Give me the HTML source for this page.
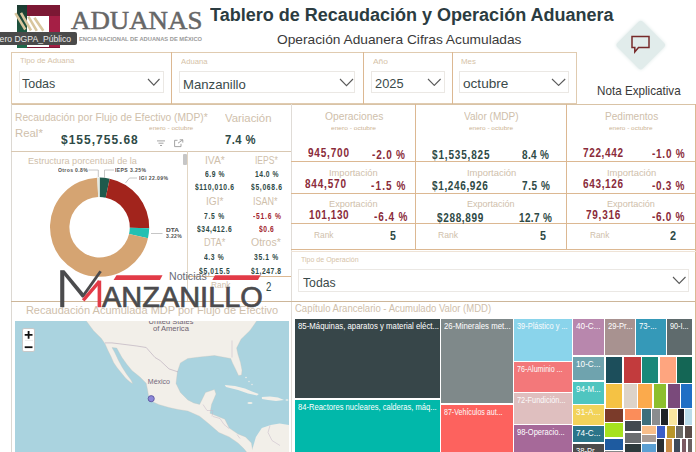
<!DOCTYPE html>
<html><head><meta charset="utf-8">
<style>
*{margin:0;padding:0;box-sizing:border-box}
html,body{width:696px;height:452px;overflow:hidden;background:#fff;font-family:"Liberation Sans",sans-serif}
.a{position:absolute;white-space:nowrap}
.b{position:absolute}
.ln{position:absolute;background:#dcb892}
</style></head><body>
<div class="b" style="left:17px;top:5px;width:43px;height:42.5px;background:#7c1834"></div>
<div class="b" style="left:17px;top:5px;width:10px;height:42.5px;background:linear-gradient(#1c3b31,#1f6a4b)"></div>
<div class="b" style="left:49.3px;top:15.8px;width:10.7px;height:31.7px;background:#a51f45"></div>
<div class="b" style="left:27.3px;top:15.8px;width:22px;height:31.7px;background:#fff"></div>
<svg class="b" style="left:0;top:0" width="60" height="48"><g stroke="#d8c69e" stroke-width="2.6" stroke-linecap="butt"><line x1="15.4" y1="13.2" x2="25.3" y2="29.5"/><line x1="21" y1="12.8" x2="31" y2="30.5"/><line x1="28.4" y1="16.6" x2="36.8" y2="30.8"/><line x1="34.4" y1="17.7" x2="43.3" y2="30.8"/></g></svg>
<div class="b" style="left:622.5px;top:26.5px;width:35.5px;height:35.5px;background:#e1eceb;transform:rotate(45deg);border-radius:3px;box-shadow:0 0 4px #dde8e7"></div>
<svg class="b" style="left:630px;top:34px" width="21" height="21" viewBox="630 34 21 21"><path d="M632 36.5H649V47.5H638.5L634.8 52V47.5H632Z" fill="none" stroke="#772a2a" stroke-width="1.5" stroke-linejoin="miter"/></svg>
<div class="b" style="left:11px;top:51.5px;width:566px;height:52.5px;border:1px solid #e0cbb0;background:#fff"></div>
<div class="ln" style="left:171px;top:52px;width:1px;height:51.5px;background:#dcb892"></div>
<div class="ln" style="left:362.5px;top:52px;width:1px;height:51.5px;background:#dcb892"></div>
<div class="ln" style="left:451.5px;top:52px;width:1px;height:51.5px;background:#dcb892"></div>
<div class="b" style="left:18.5px;top:70.8px;width:145.9px;height:22.700000000000003px;border:1px solid #ebe8e4;background:#fff"></div>
<div class="b" style="left:179.2px;top:70.7px;width:176.10000000000002px;height:22.39999999999999px;border:1px solid #ebe8e4;background:#fff"></div>
<div class="b" style="left:371px;top:71.2px;width:73.69999999999999px;height:21.5px;border:1px solid #ebe8e4;background:#fff"></div>
<div class="b" style="left:458.6px;top:71.2px;width:110.0px;height:21.5px;border:1px solid #ebe8e4;background:#fff"></div>
<svg class="b" style="left:147px;top:78.3px" width="13.5" height="8.100000000000009"><polyline points="1,1 6.8,7.1 12.5,1" fill="none" stroke="#5a5a5a" stroke-width="1.1"/></svg>
<svg class="b" style="left:338.5px;top:78px" width="15.0" height="8.599999999999994"><polyline points="1,1 7.5,7.6 14.0,1" fill="none" stroke="#5a5a5a" stroke-width="1.1"/></svg>
<svg class="b" style="left:427px;top:78px" width="14.600000000000023" height="8.400000000000006"><polyline points="1,1 7.3,7.4 13.6,1" fill="none" stroke="#5a5a5a" stroke-width="1.1"/></svg>
<svg class="b" style="left:551.2px;top:78px" width="15.199999999999932" height="8.400000000000006"><polyline points="1,1 7.6,7.4 14.2,1" fill="none" stroke="#5a5a5a" stroke-width="1.1"/></svg>
<div class="ln" style="left:11px;top:103.5px;width:685px;height:1px;background:#d9c3a6"></div>
<div class="ln" style="left:11px;top:104px;width:1px;height:348px;background:#dcd8d2"></div>
<div class="ln" style="left:290.8px;top:104px;width:1px;height:348px;background:#e0dcd7"></div>
<div class="ln" style="left:11px;top:150.5px;width:280px;height:1px;background:#d9c8b2"></div>
<div class="ln" style="left:186.8px;top:151px;width:1px;height:150px;background:#e2d6c4"></div>
<div class="b" style="left:183.2px;top:154.4px;width:3.6px;height:10.3px;background:#c6c6c6;border-radius:1px"></div>
<div class="ln" style="left:187px;top:276px;width:104px;height:1px;background:#dcb892"></div>
<div class="ln" style="left:11px;top:301px;width:685px;height:1px;background:#cdb699"></div>
<div class="ln" style="left:415.2px;top:104px;width:1px;height:145px;background:#dcb892"></div>
<div class="ln" style="left:566.3px;top:104px;width:1px;height:145px;background:#dcb892"></div>
<div class="ln" style="left:695.2px;top:104px;width:1px;height:348px;background:#dcb892"></div>
<div class="ln" style="left:291px;top:161.2px;width:405px;height:1px;background:#dcb892"></div>
<div class="ln" style="left:291px;top:192.7px;width:405px;height:1px;background:#dcb892"></div>
<div class="ln" style="left:291px;top:223.4px;width:405px;height:1px;background:#dcb892"></div>
<div class="ln" style="left:291px;top:248.7px;width:405px;height:1px;background:#dcb892"></div>
<div class="ln" style="left:291px;top:250.6px;width:405px;height:1px;background:#efe3d6"></div>
<svg class="b" style="left:155px;top:138px" width="32" height="11" viewBox="155 138 32 11"><g stroke="#9a9a9a" stroke-width="0.9" fill="none"><line x1="157" y1="140.9" x2="165" y2="140.9"/><line x1="158.5" y1="143.2" x2="163.5" y2="143.2"/><line x1="160" y1="145.5" x2="162" y2="145.5"/><path d="M177.5 140.3H174.6V146.6H181V143.8"/><path d="M178 143.2L182.8 139.8M179.7 139.8H182.8V142.6"/></g></svg>
<svg class="b" style="left:0;top:0" width="200" height="300" viewBox="0 0 200 300"><path d="M99.60 177.60A49.6 49.6 0 0 1 109.66 178.63L105.72 197.63A30.2 30.2 0 0 0 99.60 197.00Z" fill="#1e5a4c"/><path d="M109.66 178.63A49.6 49.6 0 0 1 149.19 228.24L129.79 227.83A30.2 30.2 0 0 0 105.72 197.63Z" fill="#a2241c"/><path d="M149.19 228.24A49.6 49.6 0 0 1 147.97 238.19L129.05 233.89A30.2 30.2 0 0 0 129.79 227.83Z" fill="#22c0b2"/><path d="M147.97 238.19A49.6 49.6 0 1 1 97.26 177.66L98.18 197.03A30.2 30.2 0 1 0 129.05 233.89Z" fill="#d5a472"/><path d="M97.26 177.66A49.6 49.6 0 0 1 99.60 177.60L99.60 197.00A30.2 30.2 0 0 0 98.18 197.03Z" fill="#e3e9e2"/><g stroke="#b8b8b8" stroke-width="0.8" fill="none"><path d="M88.5 170H98.3V177"/><path d="M114 170H104.5V178"/><path d="M137 178H129.5L125.5 183"/><path d="M151 233.5H162.5"/></g></svg>
<div class="b" style="left:297.7px;top:269px;width:391.3px;height:23.30000000000001px;border:1px solid #ebe8e4;background:#fff"></div>
<svg class="b" style="left:671.5px;top:276px" width="14.5" height="8.5"><polyline points="1,1 7.2,7.5 13.5,1" fill="none" stroke="#5a5a5a" stroke-width="1.1"/></svg>
<svg class="b" style="left:15px;top:320.5px" width="274" height="132" viewBox="15 320.5 274 132"><rect x="15" y="320" width="274" height="133" fill="#aad3df"/><polygon points="86.0,320.0 93.4,330.0 101.2,337.8 105.0,343.2 108.0,350.0 111.0,356.0 113.6,362.0 117.0,367.0 121.0,372.0 126.0,378.0 130.0,381.5 132.8,383.2 131.0,379.5 126.5,373.5 122.0,366.5 118.0,359.0 114.5,351.5 112.0,347.0 116.7,347.5 122.0,357.0 127.0,364.0 132.2,370.3 140.0,376.5 146.2,382.7 147.5,389.0 148.5,395.0 151.2,400.5 158.6,404.0 169.0,407.0 178.0,409.0 187.8,410.5 199.6,415.7 208.5,423.0 218.9,432.0 229.2,436.4 238.0,442.4 244.0,448.3 247.0,452.0 253.0,452.0 251.4,442.4 245.5,436.4 238.0,433.5 229.2,427.6 224.8,418.7 217.4,415.7 210.0,412.8 211.5,403.9 216.0,393.5 214.4,389.0 205.5,392.0 202.6,398.0 199.6,403.9 193.7,402.4 187.8,399.4 180.4,392.0 176.0,383.0 177.4,371.3 180.4,362.4 187.8,358.0 199.6,356.5 214.4,355.0 230.7,358.0 232.5,362.4 235.5,368.5 238.5,375.0 241.5,374.5 242.0,369.8 240.5,362.0 238.0,354.0 236.6,347.6 241.0,338.7 250.0,330.0 257.0,320.0" fill="#f2efe9" stroke="#c9c2b8" stroke-width="0.3"/><polygon points="251.4,452.0 255.9,436.4 261.8,427.6 270.7,424.6 279.6,423.0 289.0,424.6 289.0,452.0" fill="#f2efe9"/><polygon points="224.8,384.6 235.0,385.5 245.0,388.0 252.0,391.0 258.8,393.5 257.0,395.0 248.0,393.0 238.0,389.5 226.0,386.5" fill="#f2efe9"/><polygon points="261.8,396.5 270.0,396.0 278.0,397.0 284.0,399.4 276.0,400.5 268.0,399.5 262.0,398.5" fill="#f2efe9"/><ellipse cx="250" cy="402.4" rx="2.6" ry="1" fill="#f2efe9"/><ellipse cx="287" cy="399.5" rx="1.5" ry="0.8" fill="#f2efe9"/><g fill="#f2efe9"><circle cx="246" cy="377" r="0.8"/><circle cx="249" cy="381" r="0.7"/><circle cx="252" cy="384" r="0.7"/></g><polyline points="105.0,342.4 112.0,342.4 125.0,344.0 136.9,345.5 146.2,347.0 155.0,357.0 160.1,360.0 169.0,368.4 178.0,371.4" fill="none" stroke="#b6a7b8" stroke-width="0.6"/><g fill="none" stroke="#c4b6c6" stroke-width="0.5"><polyline points="203,404 207,410 213,410 212,416"/><polyline points="213,416 220,418 224,424"/><polyline points="224,424 229,428"/><polyline points="237,434 240,438"/><polyline points="270,425 268,432 272,440 280,445"/><polyline points="232,357 232,340"/></g><text x="148.6" y="323.4" font-size="7.6" fill="#6d6270" font-family="Liberation Sans" textLength="44.8" lengthAdjust="spacingAndGlyphs">United States</text><text x="152.9" y="330.6" font-size="7.6" fill="#6d6270" font-family="Liberation Sans" textLength="36" lengthAdjust="spacingAndGlyphs">of America</text><text x="147.8" y="383.7" font-size="6.8" fill="#74687c" font-family="Liberation Sans" textLength="22.2" lengthAdjust="spacingAndGlyphs">México</text><circle cx="151.2" cy="398.2" r="3.1" fill="#8c87d8" stroke="#55519a" stroke-width="0.8"/></svg><div class="b" style="left:22.4px;top:328.2px;width:12.8px;height:24px;background:#fff;border:1px solid #c8c8c8;border-radius:2px"></div><svg class="b" style="left:22px;top:328px" width="14" height="25" viewBox="0 0 14 25"><path d="M2.7 6.8H10.5M6.6 2.9V10.7" stroke="#111" stroke-width="1.8"/><line x1="3" y1="12.4" x2="11" y2="12.4" stroke="#ddd" stroke-width="0.6"/><path d="M2.7 19.2H10.5" stroke="#111" stroke-width="1.8"/></svg>
<div class="b" style="left:295px;top:319px;width:145px;height:79px;background:#374649"></div>
<div class="b" style="left:295px;top:400px;width:145px;height:52px;background:#01b8aa"></div>
<div class="b" style="left:441px;top:319px;width:72px;height:84px;background:#7f898a"></div>
<div class="b" style="left:441px;top:405px;width:72px;height:47px;background:#fd625e"></div>
<div class="b" style="left:514px;top:319px;width:58px;height:42px;background:#8ad4eb"></div>
<div class="b" style="left:514px;top:362px;width:58px;height:30px;background:#f3787a"></div>
<div class="b" style="left:514px;top:393px;width:58px;height:31px;background:#dfbfbf"></div>
<div class="b" style="left:514px;top:425px;width:58px;height:27px;background:#a66999"></div>
<div class="b" style="left:573px;top:319px;width:31px;height:36px;background:#b887ad"></div>
<div class="b" style="left:605px;top:319px;width:30px;height:36px;background:#a89290"></div>
<div class="b" style="left:636px;top:319px;width:30px;height:36px;background:#3599b8"></div>
<div class="b" style="left:667px;top:319px;width:25px;height:36px;background:#5f6b6d"></div>
<div class="b" style="left:573px;top:357px;width:31px;height:23px;background:#6fa3ae"></div>
<div class="b" style="left:573px;top:382px;width:31px;height:22px;background:#4fc5c0"></div>
<div class="b" style="left:573px;top:405px;width:31px;height:20px;background:#f2d35a"></div>
<div class="b" style="left:573px;top:426px;width:31px;height:16px;background:#2b7489"></div>
<div class="b" style="left:573px;top:444px;width:31px;height:8px;background:#4b4b4b"></div>
<div class="b" style="left:606px;top:357px;width:16px;height:26px;background:#1c4e5b"></div>
<div class="b" style="left:624px;top:357px;width:17px;height:26px;background:#c23b3d"></div>
<div class="b" style="left:642px;top:357px;width:16px;height:26px;background:#19897a"></div>
<div class="b" style="left:660px;top:357px;width:16px;height:26px;background:#fea57f"></div>
<div class="b" style="left:677px;top:357px;width:15px;height:26px;background:#146655"></div>
<div class="b" style="left:606px;top:384px;width:16px;height:24px;background:#f5c244"></div>
<div class="b" style="left:624px;top:384px;width:13px;height:24px;background:#ddd3c9"></div>
<div class="b" style="left:638px;top:384px;width:14px;height:24px;background:#fbaa4c"></div>
<div class="b" style="left:654px;top:384px;width:12px;height:24px;background:#8dbf2e"></div>
<div class="b" style="left:668px;top:384px;width:12px;height:24px;background:#7a4a7b"></div>
<div class="b" style="left:681px;top:384px;width:11px;height:24px;background:#1f6fc5"></div>
<div class="b" style="left:605px;top:409px;width:18px;height:13px;background:#7b3b2a"></div>
<div class="b" style="left:625px;top:409px;width:16px;height:11px;background:#fb8d5a"></div>
<div class="b" style="left:625px;top:421px;width:16px;height:10px;background:#424a50"></div>
<div class="b" style="left:625px;top:433px;width:16px;height:10px;background:#6b6e70"></div>
<div class="b" style="left:625px;top:444px;width:16px;height:8px;background:#2d3a3c"></div>
<div class="b" style="left:605px;top:423px;width:18px;height:14px;background:#a6e21e"></div>
<div class="b" style="left:605px;top:439px;width:18px;height:11px;background:#1e5ba0"></div>
<div class="b" style="left:605px;top:451px;width:18px;height:1px;background:#888888"></div>
<div class="b" style="left:642px;top:409px;width:9px;height:16px;background:#3c6e7c"></div>
<div class="b" style="left:652px;top:409px;width:8px;height:16px;background:#8a8d8f"></div>
<div class="b" style="left:661px;top:409px;width:7px;height:16px;background:#1f2326"></div>
<div class="b" style="left:669px;top:409px;width:8px;height:16px;background:#f8e6a0"></div>
<div class="b" style="left:678px;top:409px;width:6px;height:16px;background:#1e1e28"></div>
<div class="b" style="left:685px;top:409px;width:7px;height:16px;background:#badcea"></div>
<div class="b" style="left:642px;top:426px;width:14px;height:8px;background:#f8be8a"></div>
<div class="b" style="left:642px;top:435px;width:14px;height:7px;background:#a89c96"></div>
<div class="b" style="left:642px;top:444px;width:14px;height:8px;background:#5b9fd2"></div>
<div class="b" style="left:657px;top:426px;width:8px;height:12px;background:#3b5fc8"></div>
<div class="b" style="left:667px;top:426px;width:8px;height:12px;background:#b8962b"></div>
<div class="b" style="left:676px;top:426px;width:7px;height:12px;background:#6c6a66"></div>
<div class="b" style="left:685px;top:426px;width:7px;height:12px;background:#5a4c48"></div>
<div class="b" style="left:657px;top:439px;width:7px;height:13px;background:#2a2e32"></div>
<div class="b" style="left:666px;top:439px;width:6px;height:13px;background:#c98a45"></div>
<div class="b" style="left:674px;top:439px;width:6px;height:13px;background:#3e4a5a"></div>
<div class="b" style="left:682px;top:439px;width:4px;height:13px;background:#7b5a62"></div>
<div class="b" style="left:688px;top:439px;width:4px;height:13px;background:#6a6060"></div>
<div class="a" style="left:70.80px;top:8.00px;font-size:25.5px;line-height:25.5px;color:#676767;font-family:'Liberation Serif',serif;transform:scaleX(1.0534);transform-origin:0 0;-webkit-text-stroke:0.5px #676767;">ADUANAS</div>
<div class="a" style="left:79.20px;top:37.00px;font-size:5.6px;line-height:5.6px;color:#9a9a9a;font-weight:bold;transform:scaleX(1.0275);transform-origin:0 0;">ENCIA NACIONAL DE ADUANAS DE MÉXICO</div>
<div class="a" style="left:209.50px;top:7.00px;font-size:17.6px;line-height:17.6px;color:#2b3c41;font-weight:bold;transform:scaleX(1.0244);transform-origin:0 0;">Tablero de Recaudación y Operación Aduanera</div>
<div class="a" style="left:276.70px;top:33.00px;font-size:13.6px;line-height:13.6px;color:#3a3a3a;transform:scaleX(1.0111);transform-origin:0 0;">Operación Aduanera Cifras Acumuladas</div>
<div class="a" style="left:597.00px;top:85.00px;font-size:12.6px;line-height:12.6px;color:#383838;transform:scaleX(0.9262);transform-origin:0 0;">Nota Explicativa</div>
<div class="a" style="left:20.30px;top:57.00px;font-size:7.3px;line-height:7.3px;color:#d6c3a8;transform:scaleX(1.0681);transform-origin:0 0;">Tipo de Aduana</div>
<div class="a" style="left:22.20px;top:77.00px;font-size:13.4px;line-height:13.4px;color:#3b4a4a;transform:scaleX(0.9318);transform-origin:0 0;">Todas</div>
<div class="a" style="left:180.90px;top:58.00px;font-size:7.3px;line-height:7.3px;color:#d6c3a8;transform:scaleX(1.0534);transform-origin:0 0;">Aduana</div>
<div class="a" style="left:182.90px;top:78.00px;font-size:13.4px;line-height:13.4px;color:#3b4a4a;transform:scaleX(0.9818);transform-origin:0 0;">Manzanillo</div>
<div class="a" style="left:372.60px;top:58.00px;font-size:7.3px;line-height:7.3px;color:#d6c3a8;transform:scaleX(1.1532);transform-origin:0 0;">Año</div>
<div class="a" style="left:375.20px;top:77.00px;font-size:13.4px;line-height:13.4px;color:#3b4a4a;transform:scaleX(0.9574);transform-origin:0 0;">2025</div>
<div class="a" style="left:461.10px;top:58.00px;font-size:7.3px;line-height:7.3px;color:#d6c3a8;transform:scaleX(1.0823);transform-origin:0 0;">Mes</div>
<div class="a" style="left:462.70px;top:77.00px;font-size:13.4px;line-height:13.4px;color:#3b4a4a;transform:scaleX(1.0161);transform-origin:0 0;">octubre</div>
<div class="a" style="left:14.70px;top:113.00px;font-size:10.2px;line-height:10.2px;color:#cfc0ab;transform:scaleX(1.0070);transform-origin:0 0;">Recaudación por Flujo de Efectivo (MDP)*</div>
<div class="a" style="left:14.70px;top:129.00px;font-size:10.2px;line-height:10.2px;color:#cfc0ab;transform:scaleX(1.1159);transform-origin:0 0;">Real*</div>
<div class="a" style="left:61.20px;top:133.00px;font-size:13.6px;line-height:13.6px;color:#2e4a46;font-weight:bold;letter-spacing:1.161px;transform:scaleX(0.8800);transform-origin:0 0;">$155,755.68</div>
<div class="a" style="left:149.00px;top:126.00px;font-size:5.6px;line-height:5.6px;color:#ccb394;transform:scaleX(1.1657);transform-origin:0 0;">enero - octubre</div>
<div class="a" style="left:225.40px;top:112.00px;font-size:11.6px;line-height:11.6px;color:#cfc0ab;transform:scaleX(0.9795);transform-origin:0 0;">Variación</div>
<div class="a" style="left:224.70px;top:134.00px;font-size:12.8px;line-height:12.8px;color:#2e4a46;font-weight:bold;letter-spacing:0.510px;transform:scaleX(0.8800);transform-origin:0 0;">7.4 %</div>
<div class="a" style="left:27.80px;top:156.00px;font-size:9.6px;line-height:9.6px;color:#cfc0ab;transform:scaleX(0.9499);transform-origin:0 0;">Estructura porcentual de la</div>
<div class="a" style="left:57.90px;top:167.00px;font-size:6.2px;line-height:6.2px;color:#505050;font-weight:bold;letter-spacing:0.433px;transform:scaleX(0.8200);transform-origin:0 0;">Otros 0.8%</div>
<div class="a" style="left:115.30px;top:167.00px;font-size:6.2px;line-height:6.2px;color:#505050;font-weight:bold;letter-spacing:0.480px;transform:scaleX(0.8200);transform-origin:0 0;">IEPS 3.25%</div>
<div class="a" style="left:139.20px;top:175.00px;font-size:6.2px;line-height:6.2px;color:#505050;font-weight:bold;letter-spacing:0.489px;transform:scaleX(0.8200);transform-origin:0 0;">IGI 22.09%</div>
<div class="a" style="left:165.70px;top:227.00px;font-size:6.2px;line-height:6.2px;color:#505050;font-weight:bold;transform:scaleX(1.0621);transform-origin:0 0;">DTA</div>
<div class="a" style="left:165.70px;top:233.00px;font-size:6.2px;line-height:6.2px;color:#505050;font-weight:bold;letter-spacing:0.402px;transform:scaleX(0.8200);transform-origin:0 0;">3.22%</div>
<div class="a" style="left:204.70px;top:156.00px;font-size:10px;line-height:10px;color:#cfc0ab;transform:scaleX(1.0281);transform-origin:0 0;">IVA*</div>
<div class="a" style="left:254.50px;top:156.00px;font-size:10px;line-height:10px;color:#cfc0ab;transform:scaleX(0.8537);transform-origin:0 0;">IEPS*</div>
<div class="a" style="left:205.50px;top:197.00px;font-size:10px;line-height:10px;color:#cfc0ab;transform:scaleX(1.0101);transform-origin:0 0;">IGI*</div>
<div class="a" style="left:252.90px;top:197.00px;font-size:10px;line-height:10px;color:#cfc0ab;transform:scaleX(0.8966);transform-origin:0 0;">ISAN*</div>
<div class="a" style="left:203.50px;top:238.00px;font-size:10px;line-height:10px;color:#cfc0ab;transform:scaleX(0.9170);transform-origin:0 0;">DTA*</div>
<div class="a" style="left:251.30px;top:238.00px;font-size:10px;line-height:10px;color:#cfc0ab;transform:scaleX(1.0492);transform-origin:0 0;">Otros*</div>
<div class="a" style="left:204.70px;top:171.00px;font-size:8.2px;line-height:8.2px;color:#2e4a46;font-weight:bold;letter-spacing:0.722px;transform:scaleX(0.8200);transform-origin:0 0;">6.9 %</div>
<div class="a" style="left:254.50px;top:171.00px;font-size:8.2px;line-height:8.2px;color:#2e4a46;font-weight:bold;letter-spacing:0.617px;transform:scaleX(0.8200);transform-origin:0 0;">14.0 %</div>
<div class="a" style="left:194.80px;top:184.00px;font-size:8.2px;line-height:8.2px;color:#2e4a46;font-weight:bold;letter-spacing:0.773px;transform:scaleX(0.8200);transform-origin:0 0;">$110,010.6</div>
<div class="a" style="left:250.60px;top:184.00px;font-size:8.2px;line-height:8.2px;color:#2e4a46;font-weight:bold;letter-spacing:0.836px;transform:scaleX(0.8200);transform-origin:0 0;">$5,068.6</div>
<div class="a" style="left:204.40px;top:213.00px;font-size:8.2px;line-height:8.2px;color:#2e4a46;font-weight:bold;letter-spacing:0.905px;transform:scaleX(0.8200);transform-origin:0 0;">7.5 %</div>
<div class="a" style="left:252.80px;top:213.00px;font-size:8.2px;line-height:8.2px;color:#a3262f;font-weight:bold;letter-spacing:0.975px;transform:scaleX(0.8200);transform-origin:0 0;">-51.6 %</div>
<div class="a" style="left:197.20px;top:226.00px;font-size:8.2px;line-height:8.2px;color:#2e4a46;font-weight:bold;letter-spacing:0.725px;transform:scaleX(0.8200);transform-origin:0 0;">$34,412.6</div>
<div class="a" style="left:259.10px;top:226.00px;font-size:8.2px;line-height:8.2px;color:#a3262f;font-weight:bold;letter-spacing:0.719px;transform:scaleX(0.8200);transform-origin:0 0;">$0.6</div>
<div class="a" style="left:204.40px;top:254.00px;font-size:8.2px;line-height:8.2px;color:#2e4a46;font-weight:bold;letter-spacing:0.753px;transform:scaleX(0.8200);transform-origin:0 0;">4.3 %</div>
<div class="a" style="left:254.00px;top:254.00px;font-size:8.2px;line-height:8.2px;color:#2e4a46;font-weight:bold;letter-spacing:0.787px;transform:scaleX(0.8200);transform-origin:0 0;">35.1 %</div>
<div class="a" style="left:199.30px;top:268.00px;font-size:8.2px;line-height:8.2px;color:#2e4a46;font-weight:bold;letter-spacing:0.819px;transform:scaleX(0.8200);transform-origin:0 0;">$5,015.5</div>
<div class="a" style="left:251.30px;top:268.00px;font-size:8.2px;line-height:8.2px;color:#2e4a46;font-weight:bold;letter-spacing:0.680px;transform:scaleX(0.8200);transform-origin:0 0;">$1,247.8</div>
<div class="a" style="left:211.30px;top:281.00px;font-size:9px;line-height:9px;color:#cfc0ab;transform:scaleX(0.9263);transform-origin:0 0;">Rank</div>
<div class="a" style="left:266.00px;top:281.00px;font-size:12.5px;line-height:12.5px;color:#2e4a46;transform:scaleX(0.7727);transform-origin:0 0;">2</div>
<div class="a" style="left:25.90px;top:305.00px;font-size:11px;line-height:11px;color:#cfc0ab;">Recaudación Acumulada MDP por Flujo de Efectivo</div>
<div class="a" style="left:324.50px;top:111.00px;font-size:11px;line-height:11px;color:#cfc0ab;transform:scaleX(0.9350);transform-origin:0 0;">Operaciones</div>
<div class="a" style="left:331.00px;top:126.00px;font-size:5.6px;line-height:5.6px;color:#ccb394;transform:scaleX(1.1843);transform-origin:0 0;">enero - octubre</div>
<div class="a" style="left:307.60px;top:147.00px;font-size:12.2px;line-height:12.2px;color:#8a2b3a;font-weight:bold;letter-spacing:0.990px;transform:scaleX(0.8200);transform-origin:0 0;">945,700</div>
<div class="a" style="left:371.90px;top:149.00px;font-size:12.2px;line-height:12.2px;color:#8a2b3a;font-weight:bold;letter-spacing:1.002px;transform:scaleX(0.8200);transform-origin:0 0;">-2.0 %</div>
<div class="a" style="left:329.00px;top:168.00px;font-size:9.6px;line-height:9.6px;color:#cfc0ab;transform:scaleX(0.9685);transform-origin:0 0;">Importación</div>
<div class="a" style="left:304.70px;top:178.00px;font-size:12.2px;line-height:12.2px;color:#8a2b3a;font-weight:bold;letter-spacing:0.990px;transform:scaleX(0.8200);transform-origin:0 0;">844,570</div>
<div class="a" style="left:371.10px;top:180.00px;font-size:12.2px;line-height:12.2px;color:#8a2b3a;font-weight:bold;letter-spacing:1.368px;transform:scaleX(0.8200);transform-origin:0 0;">-1.5 %</div>
<div class="a" style="left:329.00px;top:199.00px;font-size:9.6px;line-height:9.6px;color:#cfc0ab;transform:scaleX(0.9578);transform-origin:0 0;">Exportación</div>
<div class="a" style="left:308.70px;top:209.00px;font-size:12.2px;line-height:12.2px;color:#8a2b3a;font-weight:bold;letter-spacing:0.705px;transform:scaleX(0.8200);transform-origin:0 0;">101,130</div>
<div class="a" style="left:373.90px;top:211.00px;font-size:12.2px;line-height:12.2px;color:#8a2b3a;font-weight:bold;letter-spacing:1.124px;transform:scaleX(0.8200);transform-origin:0 0;">-6.4 %</div>
<div class="a" style="left:314.40px;top:230.00px;font-size:9.6px;line-height:9.6px;color:#cfc0ab;transform:scaleX(0.8688);transform-origin:0 0;">Rank</div>
<div class="a" style="left:390.00px;top:230.00px;font-size:12.2px;line-height:12.2px;color:#2e4a46;font-weight:bold;transform:scaleX(0.8613);transform-origin:0 0;">5</div>
<div class="a" style="left:463.80px;top:111.00px;font-size:11px;line-height:11px;color:#cfc0ab;transform:scaleX(0.9146);transform-origin:0 0;">Valor (MDP)</div>
<div class="a" style="left:468.70px;top:126.00px;font-size:5.6px;line-height:5.6px;color:#ccb394;transform:scaleX(1.1603);transform-origin:0 0;">enero - octubre</div>
<div class="a" style="left:431.80px;top:149.00px;font-size:12.2px;line-height:12.2px;color:#2e4a46;font-weight:bold;letter-spacing:1.014px;transform:scaleX(0.8200);transform-origin:0 0;">$1,535,825</div>
<div class="a" style="left:521.60px;top:149.00px;font-size:12.2px;line-height:12.2px;color:#2e4a46;font-weight:bold;letter-spacing:0.408px;transform:scaleX(0.8200);transform-origin:0 0;">8.4 %</div>
<div class="a" style="left:466.70px;top:168.00px;font-size:9.6px;line-height:9.6px;color:#cfc0ab;transform:scaleX(0.9826);transform-origin:0 0;">Importación</div>
<div class="a" style="left:432.40px;top:180.00px;font-size:12.2px;line-height:12.2px;color:#2e4a46;font-weight:bold;letter-spacing:0.783px;transform:scaleX(0.8200);transform-origin:0 0;">$1,246,926</div>
<div class="a" style="left:521.50px;top:180.00px;font-size:12.2px;line-height:12.2px;color:#2e4a46;font-weight:bold;letter-spacing:0.713px;transform:scaleX(0.8200);transform-origin:0 0;">7.5 %</div>
<div class="a" style="left:467.30px;top:199.00px;font-size:9.6px;line-height:9.6px;color:#cfc0ab;transform:scaleX(0.9378);transform-origin:0 0;">Exportación</div>
<div class="a" style="left:436.80px;top:212.00px;font-size:12.2px;line-height:12.2px;color:#2e4a46;font-weight:bold;letter-spacing:0.803px;transform:scaleX(0.8200);transform-origin:0 0;">$288,899</div>
<div class="a" style="left:519.20px;top:212.00px;font-size:12.2px;line-height:12.2px;color:#2e4a46;font-weight:bold;letter-spacing:0.434px;transform:scaleX(0.8200);transform-origin:0 0;">12.7 %</div>
<div class="a" style="left:438.40px;top:230.00px;font-size:9.6px;line-height:9.6px;color:#cfc0ab;transform:scaleX(0.8966);transform-origin:0 0;">Rank</div>
<div class="a" style="left:540.20px;top:230.00px;font-size:12.2px;line-height:12.2px;color:#2e4a46;font-weight:bold;transform:scaleX(0.8785);transform-origin:0 0;">5</div>
<div class="a" style="left:604.60px;top:111.00px;font-size:11px;line-height:11px;color:#cfc0ab;transform:scaleX(0.9159);transform-origin:0 0;">Pedimentos</div>
<div class="a" style="left:609.00px;top:126.00px;font-size:5.6px;line-height:5.6px;color:#ccb394;transform:scaleX(1.1470);transform-origin:0 0;">enero - octubre</div>
<div class="a" style="left:582.60px;top:147.00px;font-size:12.2px;line-height:12.2px;color:#8a2b3a;font-weight:bold;letter-spacing:0.786px;transform:scaleX(0.8200);transform-origin:0 0;">722,442</div>
<div class="a" style="left:651.70px;top:148.00px;font-size:12.2px;line-height:12.2px;color:#8a2b3a;font-weight:bold;letter-spacing:0.904px;transform:scaleX(0.8200);transform-origin:0 0;">-1.0 %</div>
<div class="a" style="left:606.80px;top:168.00px;font-size:9.6px;line-height:9.6px;color:#cfc0ab;transform:scaleX(0.9806);transform-origin:0 0;">Importación</div>
<div class="a" style="left:582.90px;top:178.00px;font-size:12.2px;line-height:12.2px;color:#8a2b3a;font-weight:bold;letter-spacing:0.807px;transform:scaleX(0.8200);transform-origin:0 0;">643,126</div>
<div class="a" style="left:652.00px;top:180.00px;font-size:12.2px;line-height:12.2px;color:#8a2b3a;font-weight:bold;letter-spacing:0.831px;transform:scaleX(0.8200);transform-origin:0 0;">-0.3 %</div>
<div class="a" style="left:607.40px;top:199.00px;font-size:9.6px;line-height:9.6px;color:#cfc0ab;transform:scaleX(0.9458);transform-origin:0 0;">Exportación</div>
<div class="a" style="left:585.90px;top:209.00px;font-size:12.2px;line-height:12.2px;color:#8a2b3a;font-weight:bold;letter-spacing:0.910px;transform:scaleX(0.8200);transform-origin:0 0;">79,316</div>
<div class="a" style="left:652.00px;top:211.00px;font-size:12.2px;line-height:12.2px;color:#8a2b3a;font-weight:bold;letter-spacing:0.831px;transform:scaleX(0.8200);transform-origin:0 0;">-6.0 %</div>
<div class="a" style="left:589.50px;top:230.00px;font-size:9.6px;line-height:9.6px;color:#cfc0ab;transform:scaleX(0.8642);transform-origin:0 0;">Rank</div>
<div class="a" style="left:670.00px;top:230.00px;font-size:12.2px;line-height:12.2px;color:#2e4a46;font-weight:bold;transform:scaleX(0.8957);transform-origin:0 0;">2</div>
<div class="a" style="left:300.50px;top:256.00px;font-size:7.3px;line-height:7.3px;color:#d6c3a8;transform:scaleX(0.9631);transform-origin:0 0;">Tipo de Operación</div>
<div class="a" style="left:302.80px;top:276.00px;font-size:13.4px;line-height:13.4px;color:#3b4a4a;transform:scaleX(0.9117);transform-origin:0 0;">Todas</div>
<div class="a" style="left:295.40px;top:304.00px;font-size:10px;line-height:10px;color:#cfc0ab;transform:scaleX(0.9517);transform-origin:0 0;">Capítulo Arancelario - Acumulado Valor (MDD)</div>
<div class="a" style="left:297.80px;top:323.00px;font-size:8.2px;line-height:8.2px;color:#ffffff;transform:scaleX(0.9535);transform-origin:0 0;">85-Máquinas, aparatos y material eléct...</div>
<div class="a" style="left:297.80px;top:404.00px;font-size:8.2px;line-height:8.2px;color:#ffffff;transform:scaleX(0.9257);transform-origin:0 0;">84-Reactores nucleares, calderas, máq...</div>
<div class="a" style="left:443.80px;top:323.00px;font-size:8.2px;line-height:8.2px;color:#ffffff;transform:scaleX(0.9507);transform-origin:0 0;">26-Minerales met...</div>
<div class="a" style="left:443.80px;top:409.00px;font-size:8.2px;line-height:8.2px;color:#fbfbfb;transform:scaleX(0.8635);transform-origin:0 0;">87-Vehículos aut...</div>
<div class="a" style="left:516.80px;top:323.00px;font-size:8.2px;line-height:8.2px;color:#fbfbfb;transform:scaleX(0.9037);transform-origin:0 0;">39-Plástico y ...</div>
<div class="a" style="left:516.80px;top:366.00px;font-size:8.2px;line-height:8.2px;color:#fbfbfb;transform:scaleX(0.8706);transform-origin:0 0;">76-Aluminio ...</div>
<div class="a" style="left:516.80px;top:397.00px;font-size:8.2px;line-height:8.2px;color:#fbfbfb;transform:scaleX(0.8969);transform-origin:0 0;">72-Fundición...</div>
<div class="a" style="left:516.80px;top:429.00px;font-size:8.2px;line-height:8.2px;color:#ffffff;transform:scaleX(0.9173);transform-origin:0 0;">98-Operacio...</div>
<div class="a" style="left:575.80px;top:323.00px;font-size:8.2px;line-height:8.2px;color:#ffffff;transform:scaleX(1.0033);transform-origin:0 0;">40-C...</div>
<div class="a" style="left:607.80px;top:323.00px;font-size:8.2px;line-height:8.2px;color:#ffffff;transform:scaleX(0.9320);transform-origin:0 0;">29-Pr...</div>
<div class="a" style="left:638.80px;top:323.00px;font-size:8.2px;line-height:8.2px;color:#ffffff;transform:scaleX(0.9436);transform-origin:0 0;">73-...</div>
<div class="a" style="left:669.80px;top:323.00px;font-size:8.2px;line-height:8.2px;color:#ffffff;transform:scaleX(0.8875);transform-origin:0 0;">90-I...</div>
<div class="a" style="left:575.80px;top:361.00px;font-size:8.2px;line-height:8.2px;color:#ffffff;transform:scaleX(1.0033);transform-origin:0 0;">10-C...</div>
<div class="a" style="left:575.80px;top:386.00px;font-size:8.2px;line-height:8.2px;color:#ffffff;transform:scaleX(0.9666);transform-origin:0 0;">94-M...</div>
<div class="a" style="left:575.80px;top:409.00px;font-size:8.2px;line-height:8.2px;color:#fbfbfb;transform:scaleX(1.0226);transform-origin:0 0;">31-A...</div>
<div class="a" style="left:575.80px;top:430.00px;font-size:8.2px;line-height:8.2px;color:#ffffff;transform:scaleX(1.0033);transform-origin:0 0;">74-C...</div>
<div class="a" style="left:575.80px;top:448.00px;font-size:8.2px;line-height:8.2px;color:#ffffff;transform:scaleX(0.9320);transform-origin:0 0;">38-Pr...</div>
<div class="b" style="left:0;top:32px;width:77px;height:13.4px;background:#4a4a4a;border-radius:0 2px 2px 0"></div>
<div class="a" style="left:-0.4px;top:34.7px;font-size:8.6px;line-height:8.6px;color:#ebebeb">ero DGPA_Público</div>
<svg class="b" style="left:55px;top:265px" width="215" height="48" viewBox="55 265 215 48"><rect x="60.2" y="270.4" width="4.1" height="36.8" fill="#4b4b4d"/><polygon points="60.2,270.4 64.6,270.4 84.6,294.6 82.4,298" fill="#4b4b4d"/><line x1="82.6" y1="296.6" x2="100.6" y2="271.2" stroke="#4b4b4d" stroke-width="2.8"/><line x1="83.2" y1="300.4" x2="99.4" y2="281.4" stroke="#e23b47" stroke-width="3.4"/><rect x="97.6" y="280.6" width="3.6" height="26.6" fill="#e23b47"/><polygon points="116.5,275.3 162.5,275.3 160,280.1 113.6,280.1" fill="#e23b47"/><polygon points="215,275.3 260.5,275.3 258,280.1 212.3,280.1" fill="#e23b47"/></svg>
<div class="a" style="left:101.9px;top:281.7px;font-size:29.4px;line-height:29.4px;color:#4b4b4d;-webkit-text-stroke:0.7px #4b4b4d;transform:scaleX(0.985);transform-origin:0 0">ANZANILLO</div>
<div class="a" style="left:169px;top:271.2px;font-size:10.6px;line-height:10.6px;color:#6a6c76">Noticias</div>
</body></html>
